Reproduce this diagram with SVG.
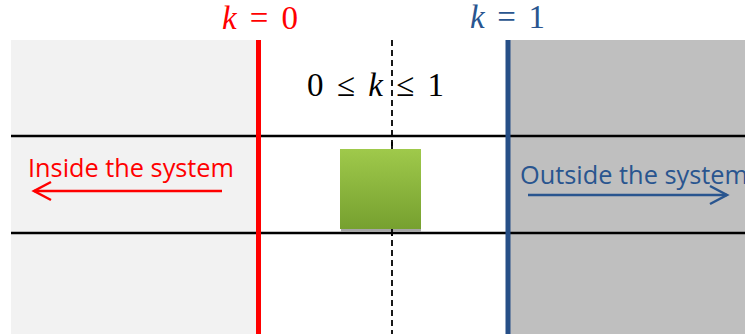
<svg xmlns="http://www.w3.org/2000/svg" width="745" height="334" viewBox="0 0 745 334">
<style>
.math{font-family:"Liberation Serif","DejaVu Serif",serif;font-size:33px}
.lbl{font-family:"Open Sans","Liberation Sans",sans-serif;font-size:25px}
.hline{stroke:#000;stroke-width:2.5}
</style>
<defs>
<linearGradient id="g" x1="0" y1="0" x2="0" y2="1">
<stop offset="0" stop-color="#9fc94b"/>
<stop offset="1" stop-color="#76a02f"/>
</linearGradient>
</defs>
<rect width="745" height="334" fill="#fff"/>
<g id="inside-region">
<rect x="11" y="40" width="246" height="294" fill="#f2f2f2"/>
</g>
<g id="outside-region">
<rect x="510" y="40" width="235" height="294" fill="#bfbfbf"/>
</g>
<g id="connectors">
<line class="hline" x1="11" y1="136" x2="745" y2="136"/>
<line class="hline" x1="11" y1="233" x2="745" y2="233"/>
<line x1="392" y1="40" x2="392" y2="334" stroke="#000" stroke-width="1.8" stroke-dasharray="6,4"/>
<line x1="258.5" y1="40" x2="258.5" y2="334" stroke="#ff0000" stroke-width="5"/>
<line x1="508" y1="40" x2="508" y2="334" stroke="#264f87" stroke-width="5"/>
<g fill="none" stroke="#ff0000" stroke-width="2.5">
<line x1="222" y1="191" x2="34" y2="191"/>
<polyline points="51,182 34,191 51,200"/>
</g>
<g fill="none" stroke="#29558f" stroke-width="2.5">
<line x1="528" y1="195" x2="727" y2="195"/>
<polyline points="710,186 727,195 710,204"/>
</g>
</g>
<g id="particle">
<rect x="341" y="151" width="80" height="81" fill="#a6a6a6"/>
<rect x="340" y="149" width="81" height="80" fill="url(#g)"/>
<line x1="392" y1="142" x2="392" y2="149" stroke="#000" stroke-width="1.8"/>
<line x1="392" y1="229" x2="392" y2="236" stroke="#000" stroke-width="1.8"/>
</g>
<g id="label-k0">
<text class="math" x="222" y="29" fill="#ff0000" textLength="76" lengthAdjust="spacing"><tspan font-style="italic">k</tspan> = 0</text>
</g>
<g id="label-k1">
<text class="math" x="470" y="28" fill="#29558f" textLength="75" lengthAdjust="spacing"><tspan font-style="italic">k</tspan> = 1</text>
</g>
<g id="label-range">
<text class="math" x="307" y="96" fill="#000" textLength="137" lengthAdjust="spacing">0 ≤ <tspan font-style="italic">k</tspan> ≤ 1</text>
</g>
<g id="label-inside">
<text class="lbl" x="28" y="177" fill="#ff0000" textLength="206" lengthAdjust="spacingAndGlyphs">Inside the system</text>
</g>
<g id="label-outside">
<text class="lbl" x="520" y="184" fill="#29558f" textLength="228" lengthAdjust="spacingAndGlyphs">Outside the system</text>
</g>
</svg>
